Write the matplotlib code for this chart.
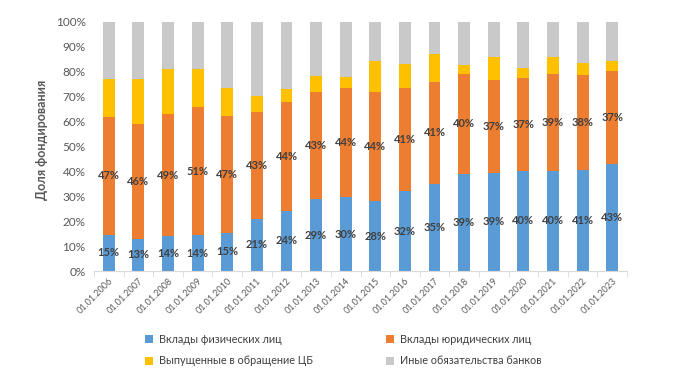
import matplotlib
matplotlib.use("Agg")
import matplotlib.pyplot as plt
import numpy as np
from matplotlib.ticker import PercentFormatter

plt.rcParams['font.family'] = ['Lato', 'DejaVu Sans']

dates = ["01.01.2006", "01.01.2007", "01.01.2008", "01.01.2009", "01.01.2010", "01.01.2011",
         "01.01.2012", "01.01.2013", "01.01.2014", "01.01.2015", "01.01.2016", "01.01.2017",
         "01.01.2018", "01.01.2019", "01.01.2020", "01.01.2021", "01.01.2022", "01.01.2023"]
individuals = [14.6, 12.9, 14.2, 14.4, 15.3, 20.9, 24.1, 28.9, 29.6, 28.1, 32.1, 35.1,
               39.1, 39.4, 40.2, 40.2, 40.7, 43.1]
legal = [47.2, 46.1, 48.7, 51.3, 46.9, 43.0, 43.8, 43.0, 43.9, 43.8, 41.4, 40.8,
         40.0, 37.3, 37.3, 38.9, 38.0, 37.2]
securities = [15.3, 18.1, 18.2, 15.4, 11.4, 6.5, 5.2, 6.5, 4.4, 12.4, 9.8, 11.4,
              3.6, 9.2, 4.2, 6.8, 4.8, 4.0]
other = [100 - a - b - c for a, b, c in zip(individuals, legal, securities)]

series_names = ["Вклады физических лиц", "Вклады юридических лиц",
                "Выпущенные в обращение ЦБ", "Иные обязательства банков"]
colors = ["#5B9BD5", "#ED7D31", "#FFC000", "#C9C9C9"]
ylabel = "Доля фондирования"

fig = plt.figure(figsize=(6.74, 3.73), dpi=100)
ax = fig.add_axes([94/674, 1 - 271/373, (627-94)/674, (271-22)/373])

x = np.arange(len(dates))
bottom = np.zeros(len(dates))
data = [individuals, legal, securities, other]
handles = []
for i, (vals, c, name) in enumerate(zip(data, colors, series_names)):
    vals = np.array(vals)
    b = ax.bar(x, vals, 0.4, bottom=bottom, color=c, label=name)
    handles.append(b)
    if i < 2:
        for xi, v, bt in zip(x, vals, bottom):
            ax.text(xi, bt + v / 2, f"{round(v):d}%", ha='center', va='center',
                    fontsize=8, color='#404040', fontweight='bold')
    bottom += vals

ax.set_xlim(-0.5, len(dates) - 0.5)
ax.set_ylim(0, 100)
ax.set_yticks(np.arange(0, 101, 10))
ax.yaxis.set_major_formatter(PercentFormatter(decimals=0))
ax.set_xticks(x)
ax.set_xticklabels(dates, rotation=45, ha='right', rotation_mode='anchor', fontsize=6.5, color='#595959')
ax.set_xticks(np.arange(-0.5, len(dates), 1), minor=True)
ax.tick_params(axis='x', which='major', length=0, pad=4)
ax.tick_params(axis='x', which='minor', length=4, color='#D9D9D9')
ax.tick_params(axis='y', length=0, labelsize=8.5, labelcolor='#595959', pad=6)
for s in ['top', 'right', 'left']:
    ax.spines[s].set_visible(False)
ax.spines['bottom'].set_color('#D9D9D9')

fig.text(42/674, 1 - 140/373, ylabel, rotation=90, ha='center', va='center',
         fontsize=9, fontweight='bold', color='#595959')

order = [0, 2, 1, 3]
leg = fig.legend(handles=[handles[i] for i in order], labels=[series_names[i] for i in order],
                 ncol=2, loc='center left',
                 bbox_to_anchor=(145/674, 1 - 350/373), frameon=False, fontsize=7.8,
                 handlelength=0.75, handleheight=0.75, handletextpad=0.5,
                 columnspacing=6.8, labelspacing=1.0, labelcolor='#404040', borderpad=0,
                 borderaxespad=0)

fig.savefig("out.png", dpi=100)
